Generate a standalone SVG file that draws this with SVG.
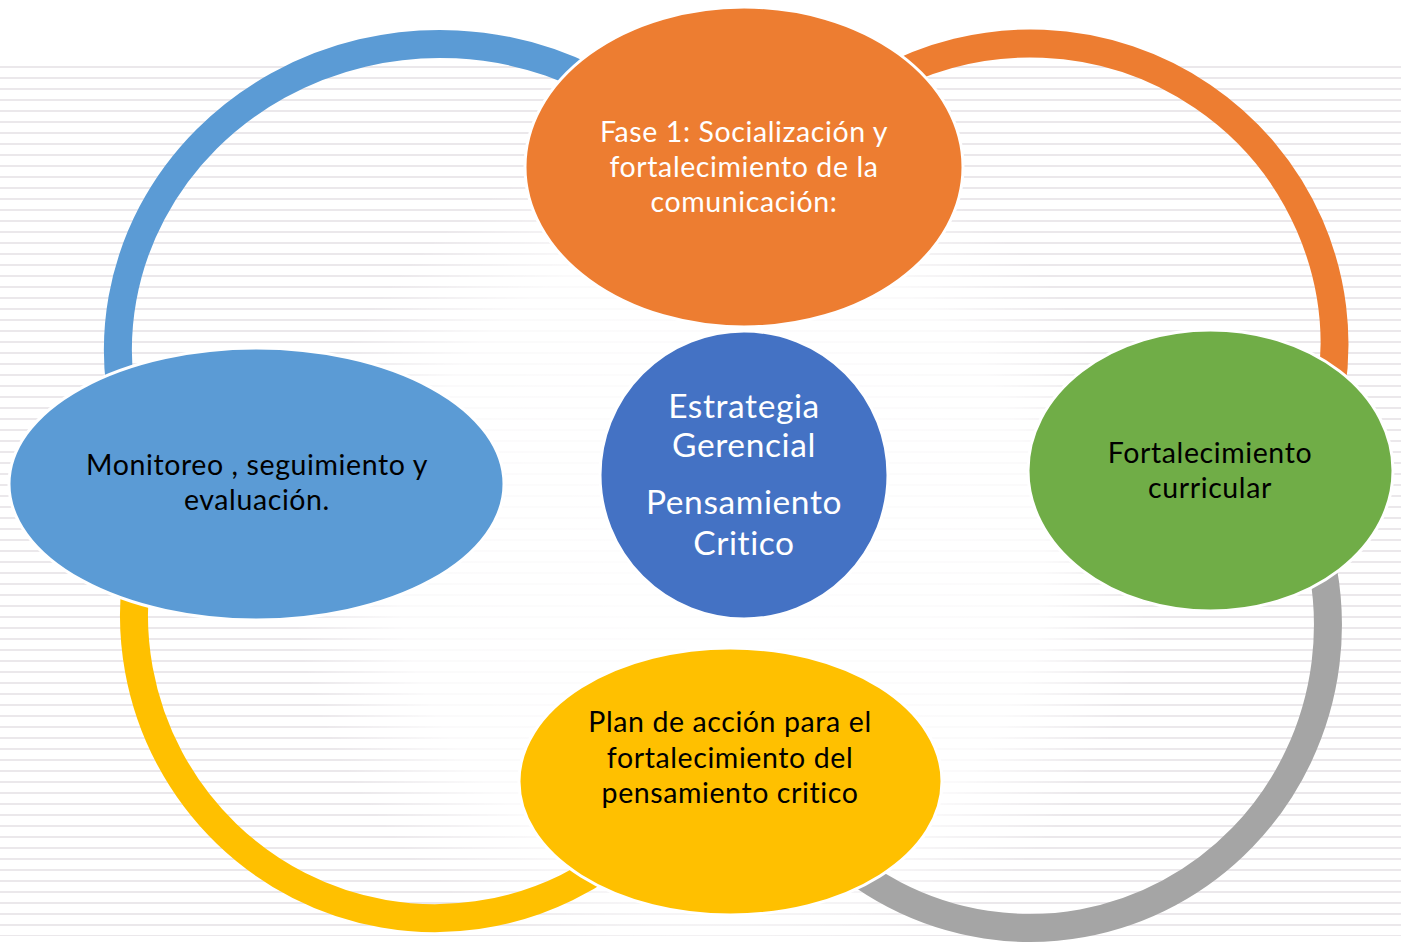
<svg xmlns="http://www.w3.org/2000/svg" width="1401" height="943" viewBox="0 0 1401 943">
<defs>
<pattern id="stripes" x="0" y="66" width="40" height="11" patternUnits="userSpaceOnUse">
<rect x="0" y="0" width="40" height="2" fill="#ebe8eb"/>
</pattern>
<radialGradient id="fade" cx="720" cy="560" r="430" gradientUnits="userSpaceOnUse">
<stop offset="0" stop-color="#ffffff" stop-opacity="0.95"/>
<stop offset="0.75" stop-color="#ffffff" stop-opacity="0.8"/>
<stop offset="1" stop-color="#ffffff" stop-opacity="0"/>
</radialGradient>
<style>
.arc{fill:none;stroke-width:28}
.node{stroke:#ffffff;stroke-width:3}
.t{font-family:Lato,"Open Sans",sans-serif;text-anchor:middle;letter-spacing:0.6px;font-variant-ligatures:none}
.s{font-size:28.5px}
.w{fill:#ffffff}
.b{fill:#000000}
</style>
</defs>
<rect width="1401" height="943" fill="#ffffff"/>
<rect x="0" y="66" width="1401" height="870" fill="url(#stripes)"/>
<rect x="0" y="66" width="1401" height="870" fill="url(#fade)"/>
<g id="connectors">
<path class="arc" stroke="#5B9BD5" d="M 120 385 A 322 306 0 0 1 630 103"/>
<path class="arc" stroke="#ED7D31" d="M 880 83 A 304 301 0 0 1 1331 390"/>
<path class="arc" stroke="#A5A5A5" d="M 1323 570 A 298 303 0 0 1 820 840"/>
<path class="arc" stroke="#FFC000" d="M 136 580 A 301 303 0 0 0 640 837"/>
</g>
<g id="node-fase1">
<ellipse class="node" cx="744" cy="167" rx="219" ry="160" fill="#ED7D31"/>
<text class="t s w"><tspan x="744" y="142">Fase 1: Socialización y</tspan><tspan x="744" y="177">fortalecimiento de la</tspan><tspan x="744" y="212">comunicación:</tspan></text>
</g>
<g id="node-center">
<circle class="node" cx="744" cy="475" r="144" fill="#4472C4"/>
<text class="t w" font-size="33.5"><tspan x="744" y="418">Estrategia</tspan><tspan x="744" y="457">Gerencial</tspan><tspan x="744" y="514">Pensamiento</tspan><tspan x="744" y="555">Critico</tspan></text>
</g>
<g id="node-fortalecimiento">
<ellipse class="node" cx="1210.5" cy="470.5" rx="182.5" ry="140.5" fill="#70AD47"/>
<text class="t s b"><tspan x="1210" y="463">Fortalecimiento</tspan><tspan x="1210" y="498">curricular</tspan></text>
</g>
<g id="node-plan">
<ellipse class="node" cx="730.5" cy="781.5" rx="211.5" ry="133.5" fill="#FFC000"/>
<text class="t s b"><tspan x="730" y="732">Plan de acción para el</tspan><tspan x="730" y="768">fortalecimiento del</tspan><tspan x="730" y="803">pensamiento critico</tspan></text>
</g>
<g id="node-monitoreo">
<ellipse class="node" cx="256.5" cy="484" rx="247.5" ry="136" fill="#5B9BD5"/>
<text class="t s b"><tspan x="257" y="475">Monitoreo , seguimiento y</tspan><tspan x="257" y="510">evaluación.</tspan></text>
</g>
</svg>
